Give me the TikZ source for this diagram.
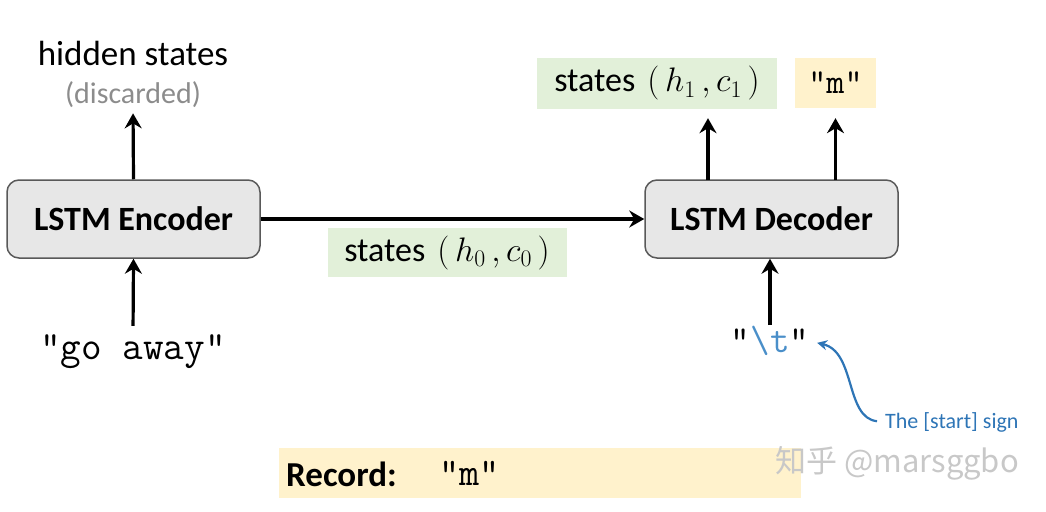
\RequirePackage{fix-cm}
\documentclass[tikz,border=0pt]{standalone}
\usepackage{fontspec}
\setmainfont{Carlito}
\newfontfamily\cjkwm{Noto Sans CJK SC}
\usetikzlibrary{arrows.meta,calc}
\definecolor{boxgray}{HTML}{E7E7E7}
\definecolor{boxline}{HTML}{595959}
\definecolor{stgreen}{HTML}{E2F0D9}
\definecolor{styellow}{HTML}{FFF2CC}
\definecolor{signblue}{HTML}{2E75B6}
\definecolor{tblue}{HTML}{4A8FC9}
\definecolor{discgray}{HTML}{8C8C8C}
\definecolor{wmgray}{HTML}{C8C8C8}
\tikzset{
  lstm/.style={draw=boxline, fill=boxgray, rounded corners=12pt, line width=1.5pt,
    minimum width=253pt, minimum height=78pt, inner sep=0pt,
    font=\fontsize{34}{40}\selectfont\bfseries},
  arr/.style={line width=3.2pt, -{Stealth[length=15pt,width=17pt,inset=5pt]}},
  lbl/.style={font=\fontsize{35}{40}\selectfont, inner sep=0pt},
  monotxt/.style={font=\fontsize{40}{44}\selectfont\ttfamily, inner sep=0pt},
  greenbox/.style={fill=stgreen, inner sep=0pt, font=\fontsize{34}{40}\selectfont},
  yellowbox/.style={fill=styellow, inner sep=0pt},
}
\begin{document}
\begin{tikzpicture}[x=1pt,y=-1pt]
\useasboundingbox (0,0) rectangle (1046,511);
% boxes
\node[lstm] (enc) at (133.5,219) {LSTM Encoder};
\node[lstm] (dec) at (771.5,219) {LSTM Decoder};
% encoder top labels
\node[lbl] (hid) at (133,53) {hidden states};
\node[lbl, font=\fontsize{30}{34}\selectfont, text=discgray, anchor=base] (disc) at (133,103) {(discarded)};
\draw[arr, shorten >=6pt] (enc.north) -- (disc.south);
% encoder input
\node[monotxt] (go) at (133,352) {"go away"};
\draw[arr, shorten <=9pt] (go.north) -- (enc.south);
% states h0 c0
\node[greenbox, minimum width=239pt, minimum height=49pt] (s0) at (447,252.5) {states\hspace{12pt}$(\,h_0\,,c_0\,)$};
\draw[arr] (enc.east) -- (dec.west);
% decoder outputs
\node[greenbox, minimum width=240pt, minimum height=51pt] (s1) at (657,83.5) {states\hspace{12pt}$(\,h_1\,,c_1\,)$};
\node[yellowbox, minimum width=81pt, minimum height=50pt, font=\fontsize{35}{40}\selectfont\ttfamily] (m) at (835.5,83) {"m"};
\coordinate (d1) at (708,180);
\coordinate (d2) at (835.5,180);
\draw[arr, shorten >=9pt] (d1) -- (d1 |- s1.south);
\draw[arr, shorten >=10pt] (d2) -- (m.south);
% decoder input
\node[monotxt, font=\fontsize{38}{42}\selectfont\ttfamily] (t) at (770,341) {"{\color{tblue}\textbackslash t}"};
\coordinate (tin) at (770,325);
\draw[arr] (tin) -- (tin |- dec.south);
% start sign
\node[font=\fontsize{22}{26}\selectfont, text=signblue, inner sep=0pt, anchor=west] (st) at (885,422) {The [start] sign};
\draw[signblue, line width=2.2pt, -{Stealth[length=10pt,width=10pt]}, shorten <=8pt, shorten >=8pt]
  (st.west) .. controls (845,418) and (856,352) .. (t.east);
% record
\node[yellowbox, minimum width=522pt, minimum height=50pt] (rec) at (539.5,473) {};
\node[font=\fontsize{35}{40}\selectfont\bfseries, inner sep=0pt, anchor=west] (rl) at (286,474) {Record:};
\node[font=\fontsize{39}{44}\selectfont\ttfamily, inner sep=0pt] (rm) at (469.5,473) {"m"};
% watermark
\node[font=\fontsize{31}{36}\selectfont\cjkwm, text=wmgray, inner sep=0pt] (wm) at (897,463) {知乎 @marsggbo};
\end{tikzpicture}
\end{document}
